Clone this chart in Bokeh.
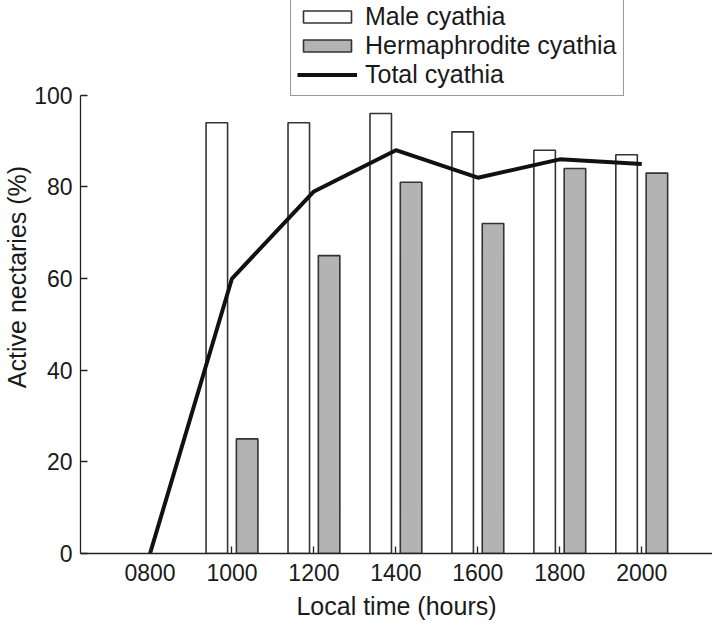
from bokeh.plotting import figure
from bokeh.models import (Range1d, FixedTicker, ColumnDataSource, Legend, LegendItem)
from bokeh.transform import dodge
from bokeh.embed import file_html
from bokeh.resources import INLINE

# ---- data ----
bar_hours = [1000, 1200, 1400, 1600, 1800, 2000]
male_cyathia = [94, 94, 96, 92, 88, 87]
herm_cyathia = [25, 65, 81, 72, 84, 83]
line_hours = [800, 1000, 1200, 1400, 1600, 1800, 2000]
total_cyathia = [0, 60, 79, 88, 82, 86, 85]
tick_hours = [800, 1000, 1200, 1400, 1600, 1800, 2000]
tick_labels = ["0800", "1000", "1200", "1400", "1600", "1800", "2000"]
y_ticks = [0, 20, 40, 60, 80, 100]

FONT = "Liberation Sans"
DARK = "#1a1a1a"

p = figure(width=712, height=626, output_backend="svg", toolbar_location=None,
           x_range=Range1d(630.3, 2172.7), y_range=Range1d(0, 120.66),
           min_border_left=75, min_border_right=0, min_border_top=0,
           min_border_bottom=73)
p.outline_line_color = None
p.xgrid.visible = False
p.ygrid.visible = False
p.background_fill_color = "white"
p.border_fill_color = "white"

bars = ColumnDataSource(dict(x=bar_hours, male=male_cyathia, herm=herm_cyathia))
r_male = p.vbar(x=dodge("x", -37, range=p.x_range), top="male", width=52.5,
                bottom=0, source=bars, fill_color="white",
                line_color="#333333", line_width=1.6)
r_herm = p.vbar(x=dodge("x", 37, range=p.x_range), top="herm", width=52.5,
                bottom=0, source=bars, fill_color="#b3b3b3",
                line_color="#333333", line_width=1.6)
r_tot = p.line(line_hours, total_cyathia, line_width=4, line_color="#111111")

# axes
xa = p.xaxis[0]
xa.ticker = FixedTicker(ticks=tick_hours)
xa.major_label_overrides = {h: l for h, l in zip(tick_hours, tick_labels)}
xa.axis_label = "Local time (hours)"
xa.major_label_standoff = 10
xa.axis_label_standoff = 8

ya = p.yaxis[0]
ya.ticker = FixedTicker(ticks=y_ticks)
ya.bounds = (0, 100)
ya.axis_label = "Active nectaries (%)"
ya.major_label_standoff = 8
ya.axis_label_standoff = 0

for ax in (xa, ya):
    ax.minor_tick_line_color = None
    ax.major_tick_in = 7
    ax.major_tick_out = 0
    ax.axis_line_color = "#222222"
    ax.axis_line_width = 1.3
    ax.major_tick_line_color = "#222222"
    ax.major_tick_line_width = 1.3
    ax.major_label_text_font = FONT
    ax.major_label_text_font_size = "23px"
    ax.major_label_text_color = DARK
    ax.axis_label_text_font = FONT
    ax.axis_label_text_font_size = "25px"
    ax.axis_label_text_font_style = "normal"
    ax.axis_label_text_color = DARK

legend = Legend(items=[
    LegendItem(label="Male cyathia", renderers=[r_male]),
    LegendItem(label="Hermaphrodite cyathia", renderers=[r_herm]),
    LegendItem(label="Total cyathia", renderers=[r_tot]),
], location=(210, 457))
legend.label_text_font = FONT
legend.label_text_font_size = "25px"
legend.label_text_color = DARK
legend.glyph_width = 60
legend.glyph_height = 15
legend.label_height = 28
legend.label_standoff = 8
legend.padding = 6
legend.spacing = 0
legend.margin = 0
legend.border_line_color = "#333333"
legend.border_line_width = 1.3
legend.background_fill_color = "white"
legend.background_fill_alpha = 1
p.add_layout(legend)

open("out.html", "w").write(file_html(p, INLINE))
